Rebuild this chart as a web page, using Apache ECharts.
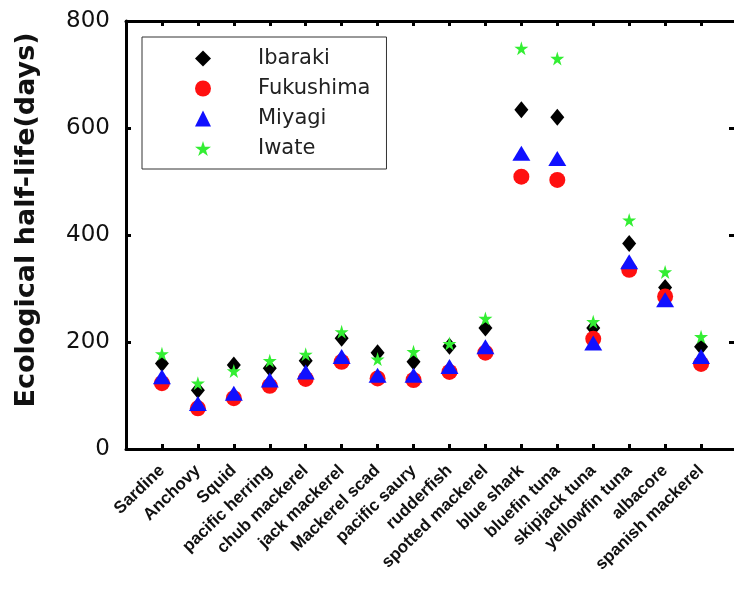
<!DOCTYPE html>
<html>
<head>
<meta charset="utf-8">
<script src="https://cdn.jsdelivr.net/npm/echarts@6/dist/echarts.min.js"></script>
<style>html,body{margin:0;padding:0;background:#fff;}#c{width:734px;height:599px;}</style>
</head>
<body>
<div id="c"></div>
<script>
const categories = ['Sardine','Anchovy','Squid','pacific herring','chub mackerel','jack mackerel','Mackerel scad','pacific saury','rudderfish','spotted mackerel','blue shark','bluefin tuna','skipjack tuna','yellowfin tuna','albacore','spanish mackerel'];
const ibaraki   = [160, 110, 157, 151, 165, 207, 180, 163, 192, 226, 634, 620, 226, 384, 302, 191];
const fukushima = [123,  76,  95, 118, 131, 163, 132, 129, 144, 180, 509, 503, 206, 335, 285, 159];
const miyagi    = [135,  85, 104, 129, 144, 173, 138, 138, 154, 191, 553, 543, 198, 350, 279, 173];
const iwate     = [178, 123, 146, 165, 177, 219, 168, 182, 197, 244, 749, 730, 238, 428, 331, 210];
const yTicks = [0, 200, 400, 600, 800];

const STAR = 'path://M50,0 L61,35 L98,35 L68,57 L79,91 L50,70 L21,91 L32,57 L2,35 L39,35 Z';
const FONT = 'DejaVu Sans';

function pts(arr){ return arr.map((v,i)=>[i+1, v]); }

const chart = echarts.init(document.getElementById('c'), null, {renderer:'canvas'});
const axisLine = {show:true, onZero:false, lineStyle:{color:'#000', width:3}};
const tick = {show:true, inside:true, length:5, lineStyle:{color:'#000', width:3}};
chart.setOption({
  animation:false,
  backgroundColor:'#fff',
  grid:{left:126, top:21, bottom:150, width:611, containLabel:false, outerBoundsMode:'none'},
  legend:{
    orient:'vertical', left:142, top:37,
    padding:[11,16,10,53],
    itemWidth:16, itemHeight:16, itemGap:9,
    borderColor:'#333', borderWidth:1, borderRadius:0,
    textStyle:{fontFamily:FONT, fontSize:21, color:'#222', padding:[0,0,0,42]},
    data:['Ibaraki','Fukushima','Miyagi','Iwate']
  },
  xAxis:[
    {type:'value', min:0, max:17, interval:1, position:'bottom',
     axisLine, axisTick:tick, splitLine:{show:false},
     axisLabel:{show:true, rotate:44, margin:19, fontFamily:'Liberation Sans', fontWeight:'bold', fontSize:17, color:'#111',
       formatter:(v)=> (v>=1 && v<=categories.length) ? categories[v-1] : ''}},
    {type:'value', min:0, max:17, interval:1, position:'top',
     axisLine, axisTick:tick, splitLine:{show:false}, axisLabel:{show:false}}
  ],
  yAxis:[
    {type:'value', min:yTicks[0], max:yTicks[yTicks.length-1], interval:200, position:'left',
     axisLine, axisTick:tick, splitLine:{show:false},
     axisLabel:{margin:16, fontFamily:FONT, fontSize:23, color:'#111'},
     name:'Ecological half-life(days)', nameLocation:'middle', nameGap:86,
     nameTextStyle:{fontFamily:FONT, fontWeight:'bold', fontSize:27, color:'#111', padding:[0,0,0,30]}},
    {type:'value', min:0, max:800, interval:200, position:'right',
     axisLine, axisTick:{show:true, inside:true, length:8, lineStyle:{color:'#000', width:3}}, splitLine:{show:false}, axisLabel:{show:false}}
  ],
  series:[
    {name:'Ibaraki', type:'scatter', symbol:'diamond', symbolSize:[14,17], itemStyle:{color:'#000', opacity:1}, data:pts(ibaraki)},
    {name:'Fukushima', type:'scatter', symbol:'circle', symbolSize:16, itemStyle:{color:'#ff1010', opacity:1}, data:pts(fukushima)},
    {name:'Miyagi', type:'scatter', symbol:'triangle', symbolSize:[18,15], itemStyle:{color:'#1010ff', opacity:1}, data:pts(miyagi)},
    {name:'Iwate', type:'scatter', symbol:STAR, symbolSize:14, itemStyle:{color:'#33ee33', opacity:1}, data:pts(iwate)}
  ]
});
</script>
</body>
</html>
